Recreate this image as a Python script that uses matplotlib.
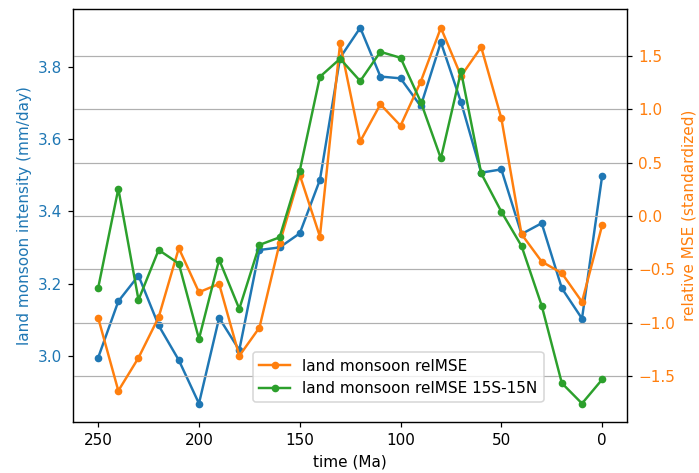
import numpy as np
import matplotlib
matplotlib.use('Agg')
import matplotlib.pyplot as plt

# time axis, every 10 Ma from 250 to 0
time = np.arange(250, -1, -10)

# land monsoon intensity (mm/day)
intensity = [2.995, 3.151, 3.222, 3.084, 2.988, 2.868, 3.105, 3.016, 3.293, 3.300,
             3.339, 3.487, 3.825, 3.908, 3.773, 3.768, 3.691, 3.868, 3.702, 3.507,
             3.516, 3.337, 3.367, 3.187, 3.103, 3.498]

# relative MSE (standardized)
relmse = [-0.954, -1.637, -1.328, -0.948, -0.302, -0.714, -0.636, -1.310, -1.045, -0.256,
          0.384, -0.193, 1.615, 0.699, 1.045, 0.845, 1.257, 1.762, 1.310, 1.581,
          0.914, -0.170, -0.427, -0.536, -0.804, -0.087]

relmse_15s15n = [-0.674, 0.255, -0.786, -0.318, -0.446, -1.151, -0.409, -0.870, -0.271, -0.200,
                 0.424, 1.303, 1.472, 1.263, 1.537, 1.481, 1.069, 0.539, 1.353, 0.399,
                 0.040, -0.281, -0.839, -1.565, -1.756, -1.531]

fig, ax1 = plt.subplots(figsize=(699 / 110, 473 / 110), dpi=110)
fig.subplots_adjust(left=0.1044, right=0.8975, top=0.981, bottom=0.1072)

ax1.plot(time, intensity, '.-', color='tab:blue', lw=1.6, ms=8)
ax1.set_xlabel('time (Ma)')
ax1.set_ylabel('land monsoon intensity (mm/day)', color='tab:blue')
ax1.tick_params(axis='y', labelcolor='tab:blue')
ax1.invert_xaxis()

ax2 = ax1.twinx()
ax2.plot(time, relmse, '.-', color='tab:orange', lw=1.6, ms=8, label='land monsoon relMSE')
ax2.plot(time, relmse_15s15n, '.-', color='tab:green', lw=1.6, ms=8, label='land monsoon relMSE 15S-15N')
ax2.set_ylabel('relative MSE (standardized)', color='tab:orange')
ax2.tick_params(axis='y', labelcolor='tab:orange')
ax2.grid(axis='y')
ax2.legend(loc='lower center', bbox_to_anchor=(0.587, 0.03))

fig.savefig('out.png', dpi=110)
